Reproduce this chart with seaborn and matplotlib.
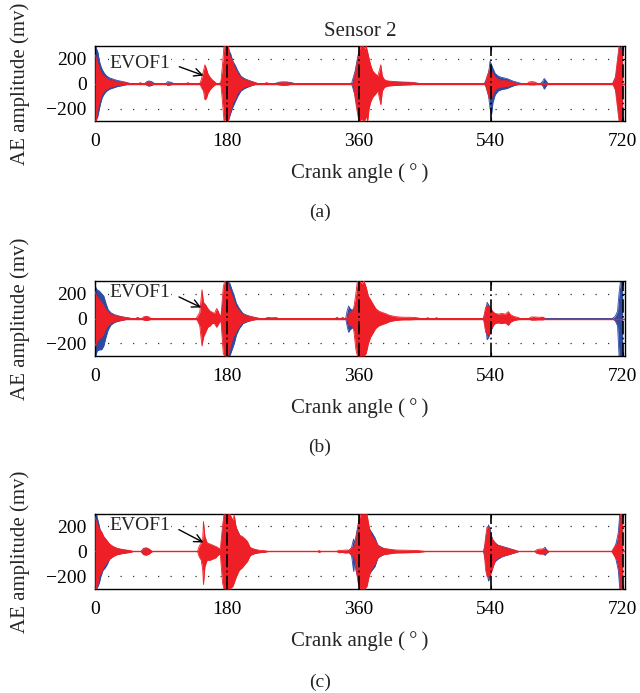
import numpy as np
import pandas as pd
import matplotlib
matplotlib.use("Agg")
import matplotlib.pyplot as plt
import seaborn as sns

# Envelope of the AE bursts: crank angle (deg), upper / lower amplitude (mv)

# --- panel (a) ---
A_BLUE_DEG = [0, 1, 2, 4, 6, 8, 10, 13, 16, 20, 25, 30, 36, 42, 48,
              68, 70, 73, 76, 79, 81, 97, 99, 102, 105, 107,
              172, 175, 177, 179, 181, 183, 185, 188, 191, 195, 199, 204, 210, 216, 222,
              246, 250, 256, 262, 268, 272,
              350, 352, 355, 358, 360, 362, 364, 367, 371, 376, 382, 390, 400, 415, 432, 445,
              531, 534, 537, 539, 541, 543, 546, 550, 554, 558, 562, 566, 570, 576, 582,
              608, 611, 613, 615, 618, 707, 711, 714, 716, 718, 720]
A_BLUE_HI = [300, 300, 280, 250, 180, 140, 110, 80, 60, 45, 35, 25, 18, 10, 0,
             0, 12, 20, 18, 10, 0, 0, 15, 12, 8, 0,
             0, 80, 200, 300, 300, 260, 240, 180, 150, 100, 60, 40, 25, 12, 0,
             0, 10, 12, 10, 8, 0,
             0, 40, 100, 200, 250, 220, 200, 260, 200, 120, 60, 30, 15, 10, 6, 0,
             0, 30, 80, 180, 150, 120, 80, 60, 50, 45, 40, 30, 20, 10, 0,
             0, 20, 40, 25, 0, 0, 60, 200, 300, 300, 300]
A_BLUE_LO = [-300, -300, -290, -260, -200, -150, -110, -80, -60, -45, -35, -25, -18, -10, 0,
             0, -12, -20, -18, -10, 0, 0, -15, -12, -8, 0,
             0, -80, -220, -300, -300, -280, -240, -190, -150, -100, -60, -40, -25, -12, 0,
             0, -10, -12, -10, -8, 0,
             0, -40, -100, -200, -260, -250, -220, -280, -200, -120, -60, -30, -15, -10, -6, 0,
             0, -30, -100, -200, -250, -150, -90, -60, -50, -45, -40, -30, -20, -10, 0,
             0, -20, -45, -25, 0, 0, -60, -200, -300, -300, -300]

A_RED_DEG = [0, 1, 2, 4, 6, 8, 10, 13, 16, 20, 25, 30, 36, 42, 48,
             60, 62, 64, 70, 72, 75, 78, 125, 127, 129,
             143, 145, 148, 150, 152, 154, 157, 160, 163, 166,
             170, 172, 174, 176, 178, 180, 182, 184, 186, 188, 191, 194, 197, 201, 205, 211, 217, 222,
             232, 234, 237, 250, 253, 258, 263, 268,
             352, 354, 357, 360, 362, 364, 366, 368, 370, 372, 374, 376, 379, 382, 386, 390, 392,
             395, 400, 410, 420, 430, 438, 440,
             532, 535, 538, 540, 542, 545, 548, 552, 558, 564, 570, 575,
             590, 592, 596, 600, 604, 706, 710, 713, 715, 717, 719, 720]
A_RED_HI = [230, 220, 200, 160, 120, 90, 70, 55, 40, 30, 22, 15, 10, 6, 0,
            0, 8, 0, 0, 15, 15, 0, 0, 8, 0,
            0, 30, 100, 150, 120, 80, 50, 30, 15, 0,
            0, 20, 150, 300, 300, 250, 300, 220, 200, 170, 120, 90, 60, 40, 30, 20, 10, 0,
            0, 8, 0, 0, 10, 12, 12, 0,
            0, 60, 150, 250, 300, 300, 300, 280, 300, 250, 200, 150, 100, 80, 60, 150, 60,
            30, 20, 15, 12, 10, 5, 0,
            0, 60, 110, 100, 90, 60, 40, 30, 25, 20, 10, 0,
            0, 12, 15, 12, 0, 0, 50, 200, 300, 250, 300, 100]
A_RED_LO = [-300, -300, -280, -200, -150, -110, -80, -60, -45, -30, -22, -15, -10, -6, 0,
            0, -8, 0, 0, -15, -12, 0, 0, -8, 0,
            0, -30, -60, -130, -120, -80, -50, -30, -15, 0,
            0, -20, -150, -300, -280, -300, -300, -240, -200, -150, -130, -80, -60, -40, -25, -20, -10, 0,
            0, -8, 0, 0, -10, -12, -12, 0,
            0, -80, -200, -300, -300, -280, -300, -300, -260, -300, -200, -150, -110, -90, -60, -170, -60,
            -30, -20, -15, -12, -10, -5, 0,
            0, -60, -120, -120, -100, -60, -40, -30, -25, -20, -10, 0,
            0, -10, -10, -10, 0, 0, -50, -200, -300, -300, -250, -100]

# --- panel (b) ---
B_BLUE_DEG = [0, 1, 3, 6, 9, 12, 15, 18, 22, 27, 33, 40, 48,
              56, 58, 61, 66, 70, 74,
              172, 175, 177, 179, 181, 184, 187, 190, 193, 197, 202, 208, 215, 222,
              236, 238, 240,
              342, 344, 346, 348, 352, 356, 362, 368, 374, 380, 390, 400,
              530, 533, 535, 537, 540, 544, 548, 556, 566, 575,
              597, 599, 601, 608, 610, 612,
              706, 710, 713, 715, 717, 720]
B_BLUE_HI = [280, 250, 230, 220, 200, 180, 120, 70, 45, 30, 20, 10, 0,
             0, 10, 0, 0, 15, 0,
             0, 150, 260, 300, 300, 280, 230, 180, 120, 80, 40, 25, 12, 0,
             0, 8, 0,
             0, 60, 100, 80, 60, 120, 220, 200, 100, 50, 20, 0,
             0, 50, 130, 110, 80, 40, 30, 20, 15, 0,
             0, 8, 0, 0, 10, 0,
             0, 20, 60, 200, 300, 300]
B_BLUE_LO = [-300, -300, -260, -250, -250, -220, -150, -90, -50, -30, -20, -10, 0,
             0, -10, 0, 0, -15, 0,
             0, -150, -280, -300, -300, -300, -250, -200, -130, -80, -40, -25, -12, 0,
             0, -8, 0,
             0, -60, -110, -90, -70, -120, -250, -220, -100, -50, -20, 0,
             0, -60, -170, -150, -100, -50, -30, -20, -15, 0,
             0, -8, 0, 0, -10, 0,
             0, -20, -60, -300, -300, -300]

B_RED_DEG = [0, 1, 3, 6, 9, 12, 15, 18, 22, 27, 33, 40, 46, 50,
             64, 66, 70, 74, 76,
             138, 140, 143, 146, 148, 151, 154, 157, 160, 163, 166, 168, 170, 172,
             175, 177, 179, 181, 183, 186, 189, 192, 196, 200, 205, 212, 220, 225,
             232, 235, 240, 248, 250,
             328, 330, 333, 336, 338, 340,
             344, 347, 350, 353, 356, 358, 361, 364, 367, 370, 373, 376, 379, 383, 387, 391, 396,
             402, 410, 420, 430, 437, 445,
             452, 454, 456, 464, 466, 468,
             530, 533, 536, 539, 542, 546, 550, 555, 560, 564, 567, 572, 577, 580,
             592, 595, 600, 605, 612, 614]
B_RED_HI = [220, 200, 170, 150, 130, 100, 70, 50, 35, 25, 15, 10, 6, 0,
            0, 12, 18, 12, 0,
            0, 20, 50, 230, 130, 110, 80, 60, 50, 40, 80, 60, 30, 20,
            250, 300, 300, 280, 250, 200, 150, 100, 70, 40, 25, 15, 8, 0,
            0, 8, 6, 8, 0,
            0, 10, 0, 0, 10, 0,
            0, 50, 60, 80, 200, 300, 300, 280, 300, 250, 180, 150, 120, 80, 60, 50, 40,
            25, 15, 10, 10, 8, 0,
            0, 8, 0, 0, 8, 0,
            0, 90, 100, 90, 60, 40, 35, 40, 35, 55, 30, 15, 10, 0,
            0, 12, 12, 10, 10, 0]
B_RED_LO = [-200, -220, -180, -160, -150, -120, -80, -55, -35, -25, -15, -10, -6, 0,
            0, -12, -15, -12, 0,
            0, -20, -60, -220, -150, -110, -70, -60, -40, -40, -70, -50, -30, -20,
            -280, -300, -300, -300, -260, -190, -140, -110, -70, -40, -25, -15, -8, 0,
            0, -8, -6, -8, 0,
            0, -10, 0, 0, -10, 0,
            0, -60, -50, -90, -250, -300, -300, -300, -300, -280, -200, -150, -120, -80, -60, -50, -40,
            -25, -15, -10, -10, -8, 0,
            0, -8, 0, 0, -8, 0,
            0, -110, -130, -120, -60, -40, -35, -40, -35, -55, -30, -15, -10, 0,
            0, -12, -12, -10, -10, 0]

# --- panel (c) ---
C_BLUE_DEG = [0, 2, 4, 6, 8, 11, 14, 17, 20, 25, 30, 36, 42, 50,
              63, 66, 70, 74, 78, 156, 158, 162, 165, 167,
              172, 175, 177, 181, 184, 188, 192, 196, 200, 204, 208, 212, 218, 225,
              344, 347, 350, 352, 353, 354, 356, 360, 366, 372, 378, 382, 386, 395, 405, 415,
              530, 533, 535, 537, 539, 542, 546, 550, 556, 562, 570, 578,
              608, 611, 614, 616, 619, 706, 710, 714, 716, 720]
C_BLUE_HI = [300, 300, 250, 200, 150, 120, 100, 80, 50, 35, 25, 15, 10, 0,
             0, 20, 25, 15, 0, 0, 20, 30, 15, 0,
             0, 200, 300, 300, 280, 250, 200, 150, 100, 90, 60, 30, 15, 0,
             0, 10, 30, 80, 100, 60, 120, 250, 280, 200, 150, 110, 50, 20, 10, 0,
             0, 80, 150, 213, 180, 100, 70, 50, 40, 30, 15, 0,
             0, 15, 35, 15, 0, 0, 40, 150, 300, 300]
C_BLUE_LO = [-300, -300, -280, -250, -200, -150, -130, -100, -60, -35, -25, -15, -10, 0,
             0, -20, -25, -15, 0, 0, -30, -30, -15, 0,
             0, -200, -300, -300, -300, -260, -200, -150, -120, -100, -60, -30, -15, 0,
             0, -10, -30, -120, -160, -80, -150, -250, -280, -200, -150, -120, -50, -20, -10, 0,
             0, -80, -180, -237, -200, -130, -80, -60, -40, -30, -15, 0,
             0, -15, -30, -15, 0, 0, -40, -150, -300, -300]

C_RED_DEG = [0, 1, 3, 6, 9, 12, 16, 20, 25, 30, 36, 42, 48, 52,
             63, 66, 70, 74, 78,
             140, 142, 145, 147, 148, 150, 153, 157, 161, 165, 168, 171,
             174, 176, 180, 184, 188, 190, 193, 197, 201, 205, 208, 212, 216, 224, 232, 236,
             304, 306, 308,
             330, 333, 337, 342, 347, 350, 354, 356, 359, 362, 365, 368, 371, 374, 377, 381, 385,
             389, 394, 400, 410, 425, 440, 451,
             531, 533, 535, 537, 540, 543, 546, 550, 555, 560, 566, 572, 577,
             600, 603, 607, 612, 616, 619, 705, 710, 714, 717, 720]
C_RED_HI = [280, 260, 220, 180, 160, 120, 90, 60, 40, 25, 18, 12, 8, 0,
            0, 25, 30, 20, 0,
            0, 40, 70, 100, 240, 120, 70, 60, 50, 40, 30, 20,
            200, 300, 300, 300, 250, 290, 180, 130, 120, 100, 80, 30, 20, 10, 6, 0,
            0, 8, 0,
            0, 10, 8, 12, 10, 30, 40, 100, 200, 300, 300, 300, 300, 200, 130, 100, 60,
            35, 25, 20, 12, 10, 8, 0,
            0, 120, 200, 190, 130, 90, 60, 50, 40, 30, 20, 12, 0,
            0, 15, 20, 20, 12, 0, 0, 50, 80, 300, 300]
C_RED_LO = [-300, -300, -280, -200, -160, -120, -90, -60, -40, -25, -18, -12, -8, 0,
            0, -25, -30, -20, 0,
            0, -40, -70, -150, -265, -120, -70, -70, -60, -50, -30, -20,
            -250, -300, -300, -300, -280, -250, -200, -150, -130, -100, -80, -30, -20, -10, -6, 0,
            0, -8, 0,
            0, -10, -8, -12, -10, -30, -40, -120, -250, -300, -300, -300, -280, -200, -140, -110, -60,
            -35, -25, -20, -12, -10, -8, 0,
            0, -150, -200, -197, -180, -128, -70, -50, -40, -30, -20, -12, 0,
            0, -15, -20, -20, -12, 0, 0, -50, -80, -300, -300]

PANELS = ["(a)", "(b)", "(c)"]
XTICKS = [0, 180, 360, 540, 720]
YTICKS = [-200, 0, 200]
TDC_LINES = [180, 360, 540, 720]

BLUE = "#2C4BA3"
RED = "#EE1F26"

sns.set_theme(style="white")
plt.rcParams["font.family"] = ["Liberation Serif", "DejaVu Serif"]

fig = plt.figure(figsize=(6.4, 6.93), dpi=100)

series = [
    (A_BLUE_DEG, A_BLUE_HI, A_BLUE_LO, A_RED_DEG, A_RED_HI, A_RED_LO),
    (B_BLUE_DEG, B_BLUE_HI, B_BLUE_LO, B_RED_DEG, B_RED_HI, B_RED_LO),
    (C_BLUE_DEG, C_BLUE_HI, C_BLUE_LO, C_RED_DEG, C_RED_HI, C_RED_LO),
]
# axes boxes in figure fraction (left, bottom, width, height)
boxes = [(0.1484, 0.8254, 0.828, 0.1082),
         (0.1484, 0.4863, 0.828, 0.1082),
         (0.1484, 0.1501, 0.828, 0.1082)]
label_y = [212, 447, 682]
# EVOF1 annotation: text anchor and arrow tip (deg, mv)
text_pos = [(20, 160), (20, 205), (20, 210)]
arrow_tip = [(148, 64), (145, 88), (148, 72)]

for i, (bd, bh, bl, rd, rh, rl) in enumerate(series):
    ax = fig.add_axes(boxes[i])
    blue = pd.DataFrame({"deg": bd, "hi": bh, "lo": bl})
    red = pd.DataFrame({"deg": rd, "hi": rh, "lo": rl})

    ax.fill_between(blue["deg"], blue["lo"], blue["hi"], color=BLUE, lw=0, zorder=2)
    sns.lineplot(data=blue, x="deg", y="hi", color=BLUE, lw=0.6, ax=ax, zorder=2)
    sns.lineplot(data=blue, x="deg", y="lo", color=BLUE, lw=0.6, ax=ax, zorder=2)
    ax.fill_between(red["deg"], red["lo"], red["hi"], color=RED, lw=0, zorder=3)
    sns.lineplot(data=red, x="deg", y="hi", color=RED, lw=0.6, ax=ax, zorder=3)
    sns.lineplot(data=red, x="deg", y="lo", color=RED, lw=0.6, ax=ax, zorder=3)
    ax.axhline(0, color=RED, lw=1.0, zorder=3)

    for yv in (-200, 200):
        ax.axhline(yv, color="#333333", lw=0.9, ls=(0, (1, 9)), zorder=1)
    for xv in TDC_LINES:
        ax.axvline(xv, color="black", lw=1.2, ls=(0, (8, 2, 1, 2)), zorder=4)

    ax.set_xlim(0, 723)
    ax.set_ylim(-300, 300)
    ax.set_xticks(XTICKS)
    ax.set_yticks(YTICKS)
    ax.set_yticklabels(["\u2212200", "0", "200"])
    ax.tick_params(direction="in", length=3, width=0.8, labelsize=14,
                   top=True, right=True, bottom=True, left=True, colors="black")
    ax.tick_params(axis="x", pad=9)
    ax.tick_params(axis="y", pad=6)
    for sp in ax.spines.values():
        sp.set_color("black")
        sp.set_linewidth(1.0)
        sp.set_visible(True)
    ax.set_xlabel("Crank angle (\u2009\u00b0\u2009)", fontsize=15, labelpad=9)
    ax.set_ylabel("AE amplitude (mv)", fontsize=15, labelpad=12)

    ax.annotate("EVOF1", xy=arrow_tip[i], xytext=text_pos[i],
                fontsize=14, ha="left", va="center", zorder=6,
                bbox=dict(boxstyle="square,pad=0.05", fc="white", ec="none"),
                arrowprops=dict(arrowstyle="->", color="black", lw=1.0,
                                shrinkA=6, shrinkB=0,
                                relpos=(1.0, 0.5)))

    fig.text(0.5, 1 - label_y[i] / 693, PANELS[i], ha="center", va="center", fontsize=14)
    if i == 0:
        ax.set_title("Sensor 2", fontsize=15, pad=7)

fig.savefig("out.png", dpi=100)
